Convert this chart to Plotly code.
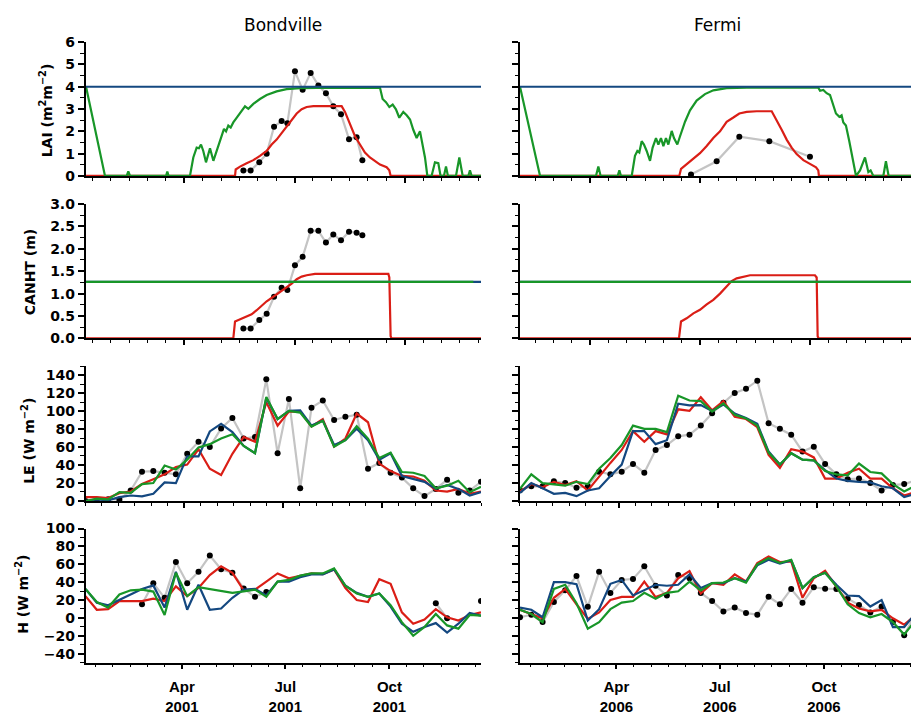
import numpy as np
import plotly.graph_objects as go

# ---------------- DATA ----------------
# time axis (day of year) for the 36 ten-day flux periods
period_days = np.linspace(0, 365, 36)

# LAI, Bondville 2001
bv_lai_green_day = [0.5, 18.0, 38.0, 39.5, 41.1, 74.3, 75.5, 76.7, 96.4, 99.5, 102.6, 104.7, 106.6, 108.7, 111.2,
                    114.9, 118.0, 121.0, 124.1, 127.8, 129.7, 131.8, 134.0, 136.4, 140.1, 144.1, 147.2, 150.3, 154.9,
                    161.0, 167.2, 176.4, 185.6, 198.0, 213.3, 271.8, 274.2, 277.3, 280.4, 283.5, 286.5, 289.6, 293.3,
                    296.4, 299.5, 302.5, 305.6, 308.7, 311.1, 313.3, 315.5, 319.4, 322.5, 325.6, 327.7, 330.8, 332.7,
                    334.5, 341.9, 345.0, 348.1, 353.3, 354.8, 356.4, 365.0]
bv_lai_green = [4.0, 0, 0, 0.2, 0, 0, 0.2, 0, 0, 0.83, 1.27, 1.24, 1.41, 1.12, 0.61,
                1.24, 0.68, 1.12, 1.56, 2.11, 2.0, 2.26, 2.17, 2.4, 2.65, 2.9, 3.12, 3.01, 3.23,
                3.45, 3.63, 3.79, 3.89, 3.94, 3.95, 3.95, 3.45, 3.31, 3.09, 3.2, 2.99, 2.61, 2.87,
                2.72, 2.53, 2.07, 1.70, 2.0, 1.41, 0.83, 0, 0, 0.61, 0.57, 0, 0, 0.42,
                0, 0, 0.83, 0, 0, 0.25, 0, 0]
bv_lai_red_day = [0.5, 138.0, 138.6, 142.6, 148.7, 154.9, 161.0, 167.2, 171.8, 176.4, 181.0, 185.6, 190.3, 194.9,
                  199.5, 204.1, 210.3, 236.4, 239.5, 242.5, 245.6, 248.7, 253.3, 257.9, 262.5, 267.2, 271.8, 277.9,
                  280.4, 281.6, 365.0]
bv_lai_red = [0, 0, 0.29, 0.42, 0.57, 0.71, 0.9, 1.12, 1.41, 1.63, 1.92, 2.21, 2.5, 2.8,
              2.99, 3.09, 3.13, 3.13, 2.87, 2.5, 2.14, 1.78, 1.41, 1.05, 0.83, 0.66, 0.51, 0.39,
              0.25, 0, 0]
bv_lai_blue_day = [0, 365]
bv_lai_blue = [4.0, 4.0]
bv_obs_day = [145.7, 152.4, 160.4, 167.2, 174.0, 181.0, 186.3, 193.3, 200.4, 207.8, 214.9, 221.9, 228.7,
              235.8, 243.2, 250.2, 255.5]
bv_lai_obs = [0.25, 0.25, 0.61, 1.0, 2.21, 2.46, 2.36, 4.69, 3.86, 4.62, 4.06, 3.71, 3.12, 2.77, 1.65, 1.73, 0.71]

# LAI, Fermi 2006
fe_lai_green_day = [0, 18.5, 70.1, 72.3, 74.4, 90.1, 91.7, 93.2, 103.1, 106.1, 108.3, 110.1, 112.3, 114.4, 116.9,
                    120.0, 122.4, 125.5, 127.7, 130.1, 132.3, 134.7, 136.9, 140.0, 142.1, 145.2, 147.7, 152.3, 156.9,
                    163.0, 170.7, 178.4, 190.7, 209.2, 275.3, 276.9, 279.9, 283.0, 286.1, 288.5, 291.6, 294.7, 296.8,
                    298.4, 300.8, 303.9, 307.0, 310.1, 313.8, 318.4, 321.5, 323.6, 326.1, 335.3, 337.7, 340.2, 365]
fe_lai_green = [4.0, 0, 0, 0.42, 0, 0, 0.25, 0, 0, 0.9, 1.12, 1.05, 1.56, 1.41, 1.12,
                0.68, 1.27, 1.7, 1.41, 1.7, 1.34, 1.7, 1.41, 2.02, 1.7, 1.41, 1.78, 2.43, 2.94,
                3.38, 3.67, 3.84, 3.94, 3.96, 3.96, 3.82, 3.86, 3.71, 3.63, 3.31, 2.8, 2.65, 2.72,
                2.4, 2.26, 1.56, 0.83, 0, 0.25, 0.83, 0.17, 0.25, 0, 0, 0.66, 0, 0]
fe_lai_red_day = [0, 147.0, 148.6, 153.8, 160.0, 166.1, 172.3, 178.4, 184.6, 190.7, 196.9, 202.4, 209.2, 218.4,
                  232.3, 236.9, 241.5, 246.1, 250.7, 255.3, 261.5, 267.6, 273.2, 275.3, 275.9, 365]
fe_lai_red = [0, 0, 0.32, 0.54, 0.76, 1.02, 1.34, 1.7, 2.0, 2.43, 2.62, 2.8, 2.87, 2.9,
              2.9, 2.5, 2.07, 1.63, 1.27, 0.98, 0.71, 0.54, 0.39, 0.25, 0, 0]
fe_lai_blue_day = [0, 365]
fe_lai_blue = [4.0, 4.0]
fe_obs_day = [157.8, 181.5, 202.4, 230.1, 267.6]
fe_lai_obs = [0.07, 0.66, 1.76, 1.56, 0.86]

# Canopy height (m)
bv_canht_red_day = [0.5, 136.4, 138.0, 142.6, 148.7, 153.3, 158.0, 162.6, 167.2, 173.3, 179.5, 185.6, 190.3,
                    194.9, 199.5, 204.1, 211.8, 279.5, 280.4, 281.6, 282.5, 365]
bv_canht_red = [0, 0, 0.38, 0.43, 0.49, 0.54, 0.63, 0.74, 0.83, 0.93, 1.03, 1.14, 1.22,
                1.32, 1.38, 1.41, 1.44, 1.44, 1.36, 0.05, 0, 0]
bv_canht_green_day = [0.5, 357.9]
bv_canht_green = [1.26, 1.26]
bv_canht_blue_day = [0.5, 365]
bv_canht_blue = [1.26, 1.26]
bv_canht_obs = [0.22, 0.22, 0.41, 0.55, 0.93, 1.13, 1.08, 1.63, 1.82, 2.4, 2.4, 2.14, 2.32, 2.19, 2.38, 2.36, 2.3]

fe_canht_red_day = [0, 146.7, 148.6, 153.8, 160.0, 166.1, 172.3, 178.4, 184.6, 190.7, 195.3, 200.0, 206.1,
                    212.3, 272.2, 273.8, 274.7, 275.6, 365]
fe_canht_red = [0, 0, 0.38, 0.45, 0.56, 0.64, 0.76, 0.86, 1.0, 1.17, 1.28, 1.34, 1.38,
                1.41, 1.41, 1.36, 0.05, 0, 0]
fe_canht_green_day = [0, 365]
fe_canht_green = [1.26, 1.26]
fe_canht_blue_day = [0, 365]
fe_canht_blue = [1.26, 1.26]

# Latent heat flux LE (W m-2)
le_bv_obs = [0, 0, 2, 1.5, 11.6, 32.5, 33.2, 31.4, 29.6, 52.4, 65.8, 60, 80.6, 92.2, 69.4, 71.2, 135.2, 53.1,
             113.5, 14.1, 103.7, 111.7, 90, 93.6, 95.8, 35.8, 42.3, 31.4, 26, 14.1, 5.4, 13.4, 23.5, 9, 11.6, 21.3]
le_bv_red = [4.3, 4.3, 3.3, 8.7, 10.5, 18.8, 24.2, 29.6, 37.6, 40.5, 57.5, 35.8, 28.9, 52.4, 71.2, 65.8, 109.9, 83.8,
             99.4, 99.4, 82.8, 91.1, 60.4, 69.4, 97.2, 87.5, 41.6, 33.2, 27.8, 27.1, 22.4, 11.6, 10.5, 13.4, 8, 10.5]
le_bv_blue = [0, 1.8, 0.7, 4.3, 6.1, 5.1, 8, 20.6, 19.9, 49.5, 49.5, 77.3, 85.7, 76.6, 61.1, 53.1, 114.6, 91.1,
              100.1, 100.8, 83.8, 89.3, 62.2, 67.6, 80.2, 67.6, 45.9, 53.1, 27.8, 24.9, 21.3, 13.4, 17.7, 13.4, 6.1, 9.8]
le_bv_green = [0, 2.5, 1.8, 9.8, 9, 18.8, 19.9, 39.4, 35, 45.9, 59.6, 63.2, 69.4, 74.1, 61.1, 53.1, 115.6, 91.1,
               100.1, 98.3, 82.8, 89.3, 60.4, 67.6, 83.1, 69.4, 47.7, 53.8, 32.2, 31.4, 27.8, 14.1, 17, 22.4, 9.8, 15.9]

le_fe_obs = [12, 16.3, 16.3, 22, 19.9, 14.8, 16.3, 32.5, 29.6, 32.5, 41.2, 31.4, 56.7, 62.2, 71.9, 73.7, 83.8, 97.6,
             109.1, 120, 124.7, 133.7, 86.4, 80.2, 73.7, 54.9, 60.4, 41.2, 29.6, 24.2, 24.9, 19.9, 11.6, 17.7, 18.8, 23]
le_fe_red = [10.5, 18.8, 15.2, 21.3, 17.7, 22, 11.6, 27.1, 42.3, 56.7, 77.7, 65.8, 77.7, 74.1, 101.9, 100.1, 115.3,
             100.8, 111, 93.6, 91.1, 82, 51.3, 36.9, 57.5, 54.9, 48.4, 24.9, 24.9, 31.4, 35.8, 24.9, 24.9, 14.1, 6.1, 10]
le_fe_blue = [9, 19.9, 14.1, 8, 9, 5.4, 11.6, 14.1, 27.8, 40.5, 77.7, 77.7, 63.2, 67.6, 108.1, 106.3, 106.6, 100.1,
              107.3, 97.2, 92.2, 85.7, 54.9, 40.5, 53.1, 45.9, 45.2, 34.3, 24.9, 22.4, 21.3, 20.6, 16.3, 14.1, 4.3, 8]
le_fe_green = [13.4, 29.6, 19.9, 18.8, 17, 21.3, 18.8, 35.8, 47.7, 62.2, 83.8, 80.2, 80.2, 76.6, 117.1, 111.7, 111,
               99.4, 108.4, 95.8, 91.8, 83.8, 53.8, 40.5, 53.1, 45.9, 45.2, 33.2, 29.6, 28.6, 41.6, 32.2, 30.7, 18.8,
               10.5, 17]

# Sensible heat flux H (W m-2)
h_bv_obs = [None, None, None, None, None, 15.3, 38.9, 22.5, 62.5, 38.9, 51.6, 69.8, 54.5, 50.5, 33, 23.6, 29.1,
            None, None, None, None, None, None, None, None, None, None, None, None, None, None,
            16.4, -0.4, None, None, 18.9]
h_bv_red = [24.4, 9.1, 9.8, 18.9, 18.9, 18.9, 21.5, 18.9, 35.3, 24.4, 33.5, 48, 57.8, 50.5, 30.9, 31.6, 40.7, 49.8,
            44.4, 47.3, 49.8, 49.1, 54.2, 33.5, 20, 17.8, 43.3, 38.2, 6.2, -6.5, -1.8, 9.8, 0.7, -2.9, 3.3, 6.2]
h_bv_blue = [32.4, 17.1, 14.2, 20, 26.2, 32.4, 36.4, 11.6, 51.6, 9.1, 37.1, 9.1, 10.5, 22.5, 31.6, 32.4, 25.1, 40.7,
             40.7, 45.5, 48.7, 48.7, 54.2, 36, 28, 23.6, 27.3, 12.7, -6.5, -15.6, -10.2, -5.8, -16.4, -6.5, 5.5, 2.5]
h_bv_green = [32.4, 17.8, 11.6, 26.2, 30.9, 31.6, 29.5, 3.3, 50.5, 24.4, 34.5, 32.4, 30.9, 28, 29.8, 31.6, 23.6, 40.7,
              42.5, 47.3, 49.8, 49.8, 55.3, 36, 27.3, 23.6, 27.3, 14.2, -4.7, -20, -10.2, 4.4, -8.4, -12, 3.3, 2.5]

h_fe_obs = [0.7, 3.6, -4.7, 17.8, 30.9, 46.9, 12.4, 51.6, 28, 42.5, 43.6, 57.8, 36, 25.1, 48, 44.4, 28, 18.9,
            7.3, 11.6, 5.5, 3.6, 23.6, 15.3, 32.4, 17.1, 34.2, 32.7, 32.4, 21.5, 14.5, 6.2, 12.7, -4.7, -19.3, 5]
h_fe_red = [9.1, 4.4, -0.4, 22.5, 32.4, 15.3, -1.1, 6.2, 20, 23.6, 23.6, 40.7, 23.3, 28, 44.4, 52.4, 27.3, 38.9,
            37.1, 48.7, 40.7, 61.5, 68.7, 62.5, 63.3, 22.5, 44.4, 52.7, 35.3, 17.1, 10.5, 7.3, 9.1, -0.4, -7.6, 3]
h_fe_blue = [11.6, 9.1, 0.7, 40, 40, 37.8, -2.9, 9.8, 38.2, 42.5, 25.1, 30.9, 37.1, 36, 37.1, 48.7, 33.5, 38.9,
             38.9, 44.4, 40.7, 58.9, 65.1, 60.7, 64.4, 33.5, 45.5, 50.5, 37.1, 25.1, 24.4, 12.7, 20, -10.2, -10.2, 5]
h_fe_green = [9.1, 4.4, -4.7, 32.4, 37.1, 16.4, -12, -4.7, 9.8, 17.1, 18.9, 28, 21.5, 28, 29.8, 40.7, 30.9, 38.9,
              39.6, 44.4, 39.6, 60, 66.9, 61.5, 65.1, 33.5, 45.5, 50.5, 35.3, 15.3, 5.5, 0.7, 4.4, -4.7, -18.5, -3]

site_titles = ["Bondville", "Fermi"]
row_titles = ["LAI (m<sup>2</sup>m<sup>\u22122</sup>)", "CANHT (m)", "LE (W m<sup>\u22122</sup>)",
              "H (W m<sup>\u22122</sup>)"]
month_labels_2001 = ["Apr<br>2001", "Jul<br>2001", "Oct<br>2001"]
month_labels_2006 = ["Apr<br>2006", "Jul<br>2006", "Oct<br>2006"]

# ---------------- STYLE ----------------
RED = "rgb(218,30,22)"
GREEN = "rgb(24,150,40)"
BLUE = "rgb(20,72,128)"
GRAY = "rgb(196,196,196)"
LW = 2.2

W, H = 911, 715
fig = go.Figure()


def ax(n):
    return ("x" if n == 1 else f"x{n}"), ("y" if n == 1 else f"y{n}")


def line(n, x, y, color, order_name):
    xa, ya = ax(n)
    fig.add_trace(go.Scatter(x=list(x), y=y, mode="lines", line=dict(color=color, width=LW),
                             xaxis=xa, yaxis=ya, showlegend=False, name=order_name, hoverinfo="skip"))


def obs(n, x, y):
    xa, ya = ax(n)
    fig.add_trace(go.Scatter(x=list(x), y=y, mode="lines+markers", line=dict(color=GRAY, width=LW),
                             marker=dict(color="black", size=6), xaxis=xa, yaxis=ya, showlegend=False,
                             hoverinfo="skip", connectgaps=False))


# Row 1: LAI
obs(1, bv_obs_day, bv_lai_obs)
line(1, bv_lai_red_day, bv_lai_red, RED, "red")
line(1, bv_lai_green_day, bv_lai_green, GREEN, "green")
line(1, bv_lai_blue_day, bv_lai_blue, BLUE, "blue")
obs(2, fe_obs_day, fe_lai_obs)
line(2, fe_lai_red_day, fe_lai_red, RED, "red")
line(2, fe_lai_green_day, fe_lai_green, GREEN, "green")
line(2, fe_lai_blue_day, fe_lai_blue, BLUE, "blue")
# Row 2: CANHT
obs(3, bv_obs_day, bv_canht_obs)
line(3, bv_canht_red_day, bv_canht_red, RED, "red")
line(3, bv_canht_blue_day, bv_canht_blue, BLUE, "blue")
line(3, bv_canht_green_day, bv_canht_green, GREEN, "green")
line(4, fe_canht_red_day, fe_canht_red, RED, "red")
line(4, fe_canht_blue_day, fe_canht_blue, BLUE, "blue")
line(4, fe_canht_green_day, fe_canht_green, GREEN, "green")
# Row 3: LE
obs(5, period_days, le_bv_obs)
line(5, period_days, le_bv_red, RED, "red")
line(5, period_days, le_bv_blue, BLUE, "blue")
line(5, period_days, le_bv_green, GREEN, "green")
obs(6, period_days, le_fe_obs)
line(6, period_days, le_fe_red, RED, "red")
line(6, period_days, le_fe_blue, BLUE, "blue")
line(6, period_days, le_fe_green, GREEN, "green")
# Row 4: H
obs(7, period_days, h_bv_obs)
line(7, period_days, h_bv_red, RED, "red")
line(7, period_days, h_bv_blue, BLUE, "blue")
line(7, period_days, h_bv_green, GREEN, "green")
obs(8, period_days, h_fe_obs)
line(8, period_days, h_fe_red, RED, "red")
line(8, period_days, h_fe_blue, BLUE, "blue")
line(8, period_days, h_fe_green, GREEN, "green")

# ---------------- LAYOUT ----------------
col_px = [(85.5, 481.0), (520.0, 911.0)]
row_px = [(35.0, 172.3), (201.0, 339.0), (367.3, 505.7), (534.0, 671.5)]
yranges = [[0, 6], [0, 3], [0, 150], [-50, 100]]
ydticks = [(1, 0.5), (0.5, 0.25), (20, 10), (20, 10)]
yfmt = ["d", ".1f", "d", "d"]
# major / minor x tick positions (day of year) per row and column
xmajor = {
    (0, 0): ([91.2, 193.3, 294.9], 16.95), (0, 1): ([64.6, 166.1, 267.6], 16.92),
    (1, 0): ([91.2, 193.3, 294.9], 16.95), (1, 1): ([64.6, 166.1, 267.6], 16.92),
    (2, 0): ([91.25, 182.5, 273.75], 15.21), (2, 1): ([91.25, 182.5, 273.75], 15.21),
    (3, 0): ([89.0, 184.4, 280.5], 15.95), (3, 1): ([89.0, 184.4, 280.5], 15.95),
}
DAYS_PER_PX = 365.0 / 395.5

TICKFONT = dict(family="DejaVu Sans", size=14, color="black", weight="bold")
XTICKFONT = dict(family="Liberation Sans", size=15, color="black", weight="bold")

layout = dict(width=W, height=H, autosize=False, margin=dict(l=0, r=0, t=0, b=0),
              paper_bgcolor="white", plot_bgcolor="white", showlegend=False)

for r in range(4):
    for c in range(2):
        n = r * 2 + c + 1
        xk = "xaxis" if n == 1 else f"xaxis{n}"
        yk = "yaxis" if n == 1 else f"yaxis{n}"
        x0, x1 = col_px[c]
        top, bot = row_px[r]
        xr = [0, (x1 - x0) * DAYS_PER_PX]
        majors, mdt = xmajor[(r, c)]
        xa = dict(domain=[x0 / W, x1 / W], range=xr, anchor=("y" if n == 1 else f"y{n}"),
                  showline=True, linecolor="black", linewidth=1.5, showgrid=False, zeroline=False,
                  ticks="outside", ticklen=5, tickwidth=1.5, tickcolor="black",
                  tickmode="array", tickvals=majors,
                  minor=dict(ticks="outside", ticklen=3, tickwidth=1.2, tickcolor="black",
                             tick0=majors[0], dtick=mdt, showgrid=False),
                  fixedrange=True)
        if r == 3:
            xa["ticktext"] = month_labels_2001 if c == 0 else month_labels_2006
            xa["showticklabels"] = True
            xa["tickfont"] = XTICKFONT
            xa["ticklabelstandoff"] = 5
        else:
            xa["showticklabels"] = False
        dt, mdty = ydticks[r]
        ya = dict(domain=[(H - bot) / H, (H - top) / H], range=yranges[r], anchor=("x" if n == 1 else f"x{n}"),
                  showline=True, linecolor="black", linewidth=1.5, showgrid=False, zeroline=False,
                  ticks="outside", ticklen=6, tickwidth=1.5, tickcolor="black",
                  tickmode="linear", tick0=0, dtick=dt, tickformat=yfmt[r],
                  minor=dict(ticks="outside", ticklen=3.5, tickwidth=1.2, tickcolor="black",
                             tick0=0, dtick=mdty, showgrid=False),
                  showticklabels=(c == 0), tickfont=TICKFONT, fixedrange=True)
        layout[xk] = xa
        layout[yk] = ya

annotations = []
for i, cx in enumerate([283, 717.5]):
    annotations.append(dict(text=site_titles[i], x=cx / W, y=(H - 17) / H, xref="paper", yref="paper",
                            showarrow=False, xanchor="center", yanchor="middle",
                            font=dict(family="DejaVu Sans", size=17, color="black")))
ytitle_pos = [(46, 105), (30, 271), (28, 444), (22, 602)]
for r in range(4):
    px, py = ytitle_pos[r]
    annotations.append(dict(text=row_titles[r], x=px / W, y=(H - py) / H, xref="paper", yref="paper",
                            showarrow=False, xanchor="center", yanchor="middle", textangle=-90,
                            font=dict(family="DejaVu Sans", size=14, color="black", weight="bold")))
layout["annotations"] = annotations

fig.update_layout(**layout)
fig.write_html("out.html")
